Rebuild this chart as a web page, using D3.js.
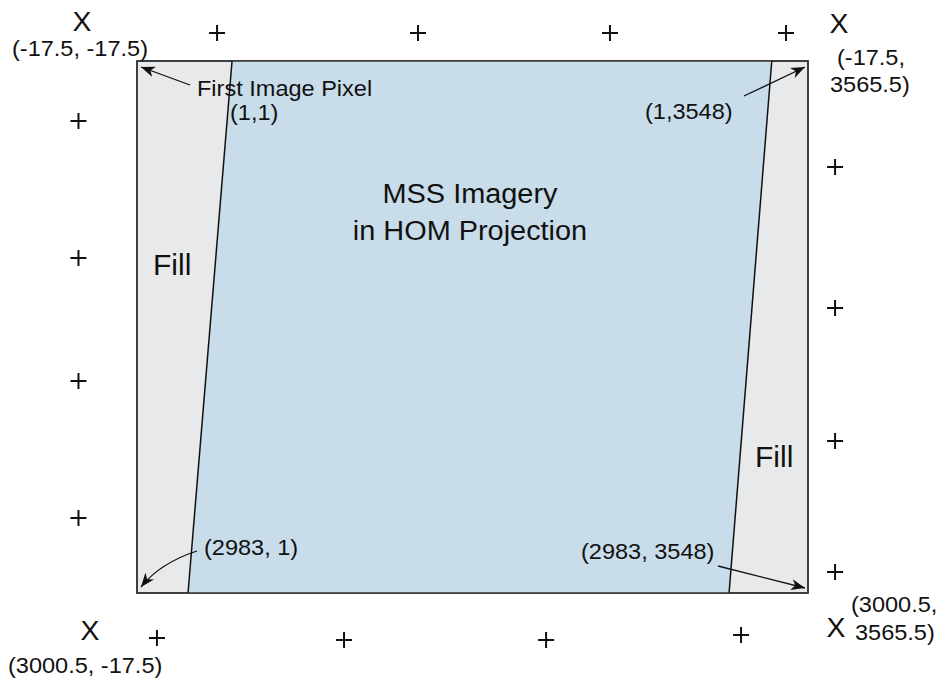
<!DOCTYPE html>
<html><head><meta charset="utf-8">
<script src="https://cdn.jsdelivr.net/npm/d3@7"></script>
<style>
body{margin:0;background:#fff}
text{font-family:"Liberation Sans",Arial,Helvetica,sans-serif;fill:#111}
</style>
</head><body>
<svg id="c" width="941" height="679"></svg>
<script>
// ---- data (frame coordinates: row = line, col = sample) ----
const frameRows = [-17.5, 3000.5];
const frameCols = [-17.5, 3565.5];
// image parallelogram edge columns along top row and bottom row of the frame
const imageTopCols = [490, 3372];
const imageBottomCols = [255, 3144];
// "+" tick marks around the frame
const tickTopCols = [410, 1483, 2508, 3448];
const tickTopRow = -176;
const tickBottomCols = [89, 1088, 2167, 3208];
const tickBottomRows = [3256, 3267, 3267, 3239];
const tickLeftRows = [323, 1100, 1798, 2575];
const tickLeftCol = -330;
const tickRightRows = [584, 1384, 2138, 2881];
const tickRightCol = 3710;
// labels
const cornerLabels = ["(-17.5, -17.5)", ["(-17.5,", "3565.5)"], "(3000.5, -17.5)", ["(3000.5,", "3565.5)"]];
const pixelLabels = ["(1,1)", "(1,3548)", "(2983, 1)", "(2983, 3548)"];
const titleLines = ["MSS Imagery", "in HOM Projection"];
const fillLabel = "Fill";
const firstPixelLabel = "First Image Pixel";

// ---- scales ----
const x = d3.scaleLinear().domain(frameCols).range([137, 808]);
const y = d3.scaleLinear().domain(frameRows).range([61, 593]);

const svg = d3.select("#c");
svg.append("defs").append("marker")
  .attr("id","ah").attr("viewBox","-14 -7 16 14").attr("refX",0).attr("refY",0)
  .attr("markerWidth",16).attr("markerHeight",14).attr("markerUnits","userSpaceOnUse")
  .attr("orient","auto")
  .append("path").attr("d","M0,0 L-14,-5.5 L-10,0 L-14,5.5 Z").attr("fill","#111");

// frame (fill area)
svg.append("rect")
  .attr("x", x(frameCols[0])).attr("y", y(frameRows[0]))
  .attr("width", x(frameCols[1]) - x(frameCols[0]))
  .attr("height", y(frameRows[1]) - y(frameRows[0]))
  .attr("fill", "#e8e9eb").attr("stroke", "#3a3a3a").attr("stroke-width", 1.4);

// image parallelogram
const poly = [
  [x(imageTopCols[0]), y(frameRows[0])],
  [x(imageTopCols[1]), y(frameRows[0])],
  [x(imageBottomCols[1]), y(frameRows[1])],
  [x(imageBottomCols[0]), y(frameRows[1])]
];
svg.append("path").attr("d", d3.line()(poly) + "Z")
  .attr("fill", "#c8dcea").attr("stroke", "none");
svg.append("line").attr("x1",poly[0][0]).attr("y1",poly[0][1]).attr("x2",poly[3][0]).attr("y2",poly[3][1])
  .attr("stroke","#111").attr("stroke-width",1.5);
svg.append("line").attr("x1",poly[1][0]).attr("y1",poly[1][1]).attr("x2",poly[2][0]).attr("y2",poly[2][1])
  .attr("stroke","#111").attr("stroke-width",1.5);
// frame border on top
svg.append("rect")
  .attr("x", x(frameCols[0])).attr("y", y(frameRows[0]))
  .attr("width", x(frameCols[1]) - x(frameCols[0]))
  .attr("height", y(frameRows[1]) - y(frameRows[0]))
  .attr("fill", "none").attr("stroke", "#2a2a2a").attr("stroke-width", 1.4);

// ticks
const ticks = [];
tickTopCols.forEach(c => ticks.push([c, tickTopRow]));
tickBottomCols.forEach((c,i) => ticks.push([c, tickBottomRows[i]]));
tickLeftRows.forEach(r => ticks.push([tickLeftCol, r]));
tickRightRows.forEach(r => ticks.push([tickRightCol, r]));
svg.append("g").selectAll("path").data(ticks).join("path")
  .attr("d", d => { const px=x(d[0]), py=y(d[1]); return `M${px-8},${py}H${px+8}M${px},${py-8}V${py+8}`; })
  .attr("stroke","#111").attr("stroke-width",2).attr("fill","none");

function txt(str, px, py, size, anchor, sx){
  return svg.append("text").attr("transform",`translate(${px},${py}) scale(${sx||1},1)`)
    .attr("text-anchor", anchor||"start").attr("font-size", size).text(str);
}

// X corner markers
const xm = [[x(frameCols[0])-55, y(frameRows[0])-30],[x(frameCols[1])+31, y(frameRows[0])-28],
            [x(frameCols[0])-47, y(frameRows[1])+47],[x(frameCols[1])+28, y(frameRows[1])+44]];
xm.forEach(p => txt("X", p[0], p[1], 27, "middle", 1.05));

// corner labels
txt(cornerLabels[0], 12, 56, 22, "start", 1.07);
txt(cornerLabels[1][0], 837, 65, 22, "start", 1.07);
txt(cornerLabels[1][1], 830, 92, 22, "start", 1.07);
txt(cornerLabels[2], 8, 673, 22, "start", 1.07);
txt(cornerLabels[3][0], 851, 612, 22, "start", 1.07);
txt(cornerLabels[3][1], 855, 640, 22, "start", 1.07);

// pixel labels
txt(firstPixelLabel, 197, 96, 22, "start", 1.07);
txt(pixelLabels[0], 230, 120, 22, "start", 1.07);
txt(pixelLabels[1], 645, 119, 22, "start", 1.07);
txt(pixelLabels[2], 204, 555, 22, "start", 1.07);
txt(pixelLabels[3], 581, 559, 22, "start", 1.07);

// title
txt(titleLines[0], 470, 203, 27, "middle", 1.07);
txt(titleLines[1], 470, 240, 27, "middle", 1.07);

// fill labels
txt(fillLabel, 153, 275, 30, "start", 1.0);
txt(fillLabel, 755, 467, 30, "start", 1.0);

// arrows
const arr = svg.append("g").attr("stroke","#111").attr("stroke-width",1.3).attr("fill","none");
arr.append("path").attr("d",`M190,85 L${x(frameCols[0])+4},${y(frameRows[0])+6}`).attr("marker-end","url(#ah)");
arr.append("path").attr("d",`M744,96 L${x(frameCols[1])-3},${y(frameRows[0])+6}`).attr("marker-end","url(#ah)");
arr.append("path").attr("d",`M197,551 Q160,563 ${x(frameCols[0])+4},${y(frameRows[1])-6}`).attr("marker-end","url(#ah)");
arr.append("path").attr("d",`M718,566 L${x(frameCols[1])-3},${y(frameRows[1])-5}`).attr("marker-end","url(#ah)");
</script>
</body></html>
